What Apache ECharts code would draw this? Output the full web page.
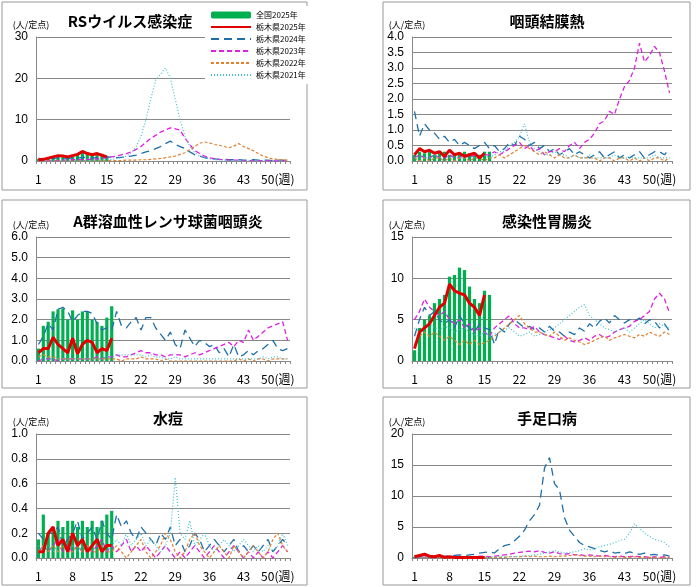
<!DOCTYPE html>
<html><head><meta charset="utf-8">
<script src="https://cdn.jsdelivr.net/npm/echarts@6/dist/echarts.min.js"></script>
<style>body{margin:0;background:#fff}#c{width:699px;height:587px}</style>
</head><body><div id="c"></div>
<script>
var weeks = [];
for (var w = 1; w <= 52; w++) weeks.push(String(w));
var seriesNames = ['全国2025年','栃木県2025年','栃木県2024年','栃木県2023年','栃木県2022年','栃木県2021年'];

// RSウイルス感染症
var rsAll = [0.5,0.6,0.8,1.0,1.2,1.1,1.3,1.5,1.8,2.2,2.0,1.8,1.5,1.3,1.1];
var rsPref = [0.3,0.4,0.7,1.0,1.3,1.2,1.0,1.3,1.6,2.3,1.8,1.5,1.8,1.4,1.0];
var rs2024 = [0.6,0.5,0.7,0.6,0.8,0.7,0.6,0.8,0.7,0.9,0.8,0.7,0.8,0.9,1.0,0.9,0.8,0.9,1.0,1.2,1.4,1.8,2.2,2.5,3.0,3.5,4.2,4.8,4.0,3.5,3.0,2.2,1.5,1.2,0.8,0.6,0.5,0.4,0.4,0.3,0.3,0.3,0.2,0.2,0.3,0.2,0.2,0.2,0.1,0.2,0.2,0.1];
var rs2023 = [0.1,0.1,0.1,0.2,0.1,0.2,0.2,0.3,0.3,0.3,0.4,0.4,0.5,0.6,0.8,1.0,1.2,1.5,1.8,2.2,2.8,3.5,4.5,5.5,6.2,7.0,7.5,8.0,7.8,7.5,5.5,4.0,2.5,1.8,1.2,0.8,0.6,0.4,0.3,0.2,0.2,0.2,0.1,0.1,0.1,0.1,0.1,0.1,0.1,0.0,0.1,0.1];
var rs2022 = [0.0,0.0,0.0,0.0,0.0,0.0,0.0,0.0,0.0,0.1,0.0,0.0,0.1,0.0,0.1,0.1,0.1,0.1,0.2,0.2,0.2,0.3,0.3,0.4,0.5,0.6,0.8,1.0,1.2,1.6,2.0,2.8,3.5,4.3,4.6,4.4,4.0,3.8,3.5,3.2,3.6,4.2,3.5,3.0,2.5,1.8,1.2,0.8,0.5,0.4,0.3,0.2];
var rs2021 = [0.0,0.0,0.0,0.0,0.0,0.0,0.0,0.0,0.1,0.1,0.1,0.1,0.2,0.2,0.3,0.4,0.6,0.8,1.2,2.0,3.5,6.0,10.0,15.0,19.5,21.0,22.5,20.0,15.0,10.0,6.0,3.5,2.0,1.2,0.8,0.5,0.3,0.2,0.2,0.1,0.1,0.1,0.1,0.1,0.1,0.0,0.0,0.0,0.0,0.0,0.0,0.0];

// 咽頭結膜熱
var pcAll = [0.2,0.3,0.25,0.3,0.2,0.25,0.3,0.2,0.25,0.2,0.3,0.25,0.2,0.2,0.3,0.3];
var pcPref = [0.2,0.4,0.3,0.35,0.25,0.3,0.15,0.35,0.2,0.25,0.15,0.2,0.25,0.1,0.25];
var pc2024 = [1.6,0.8,1.2,1.0,0.9,0.7,0.8,0.6,0.7,0.5,0.6,0.5,0.4,0.5,0.6,0.4,0.5,0.3,0.4,0.6,0.5,0.8,0.7,0.5,0.6,0.4,0.5,0.3,0.4,0.2,0.3,0.4,0.2,0.3,0.2,0.1,0.2,0.3,0.1,0.2,0.3,0.1,0.2,0.1,0.2,0.3,0.1,0.2,0.3,0.3,0.2,0.4];
var pc2023 = [0.1,0.2,0.1,0.1,0.2,0.1,0.1,0.2,0.1,0.1,0.2,0.1,0.2,0.1,0.2,0.2,0.3,0.2,0.3,0.4,0.5,0.6,0.4,0.5,0.3,0.4,0.2,0.3,0.3,0.4,0.3,0.5,0.6,0.4,0.6,0.7,0.9,1.2,1.3,1.6,1.5,2.0,2.4,2.6,3.0,3.8,3.2,3.4,3.7,3.5,2.9,2.2];
var pc2022 = [0.1,0.0,0.1,0.0,0.1,0.1,0.0,0.1,0.0,0.1,0.1,0.0,0.1,0.1,0.0,0.1,0.1,0.2,0.1,0.2,0.3,0.4,0.5,0.4,0.3,0.2,0.3,0.2,0.1,0.2,0.1,0.1,0.2,0.1,0.1,0.1,0.1,0.0,0.1,0.1,0.0,0.1,0.1,0.0,0.1,0.0,0.1,0.0,0.1,0.1,0.0,0.1];
var pc2021 = [0.1,0.1,0.1,0.1,0.2,0.1,0.2,0.1,0.2,0.1,0.1,0.2,0.1,0.1,0.2,0.1,0.2,0.3,0.3,0.5,0.6,0.8,1.2,0.6,0.4,0.3,0.2,0.2,0.3,0.2,0.2,0.1,0.2,0.1,0.1,0.2,0.1,0.1,0.1,0.1,0.2,0.1,0.1,0.1,0.1,0.1,0.1,0.1,0.2,0.1,0.1,0.1];

// A群溶血性レンサ球菌咽頭炎
var gaAll = [0.6,1.7,1.9,2.4,2.5,2.55,2.0,2.45,2.0,2.4,2.4,2.0,1.9,1.7,2.1,2.65];
var gaPref = [0.4,0.6,0.6,1.15,0.8,0.6,0.4,1.1,0.35,0.8,1.0,0.9,0.4,0.6,0.5,1.1];
var ga2024 = [0.8,1.2,1.8,1.5,2.5,2.6,2.4,1.9,2.2,2.4,2.4,2.3,1.8,1.5,1.6,1.5,2.4,1.7,1.6,1.9,2.1,1.5,2.1,2.1,1.6,1.3,1.0,1.4,0.8,0.6,1.5,1.1,0.7,1.0,0.9,0.7,0.8,0.4,0.6,0.2,0.8,0.2,0.3,0.5,0.3,0.5,0.6,0.8,1.0,0.6,0.5,0.6];
var ga2023 = [0.0,0.1,0.1,0.1,0.0,0.1,0.1,0.1,0.1,0.1,0.1,0.1,0.2,0.1,0.2,0.2,0.3,0.2,0.2,0.3,0.4,0.5,0.4,0.4,0.3,0.3,0.2,0.3,0.3,0.3,0.2,0.3,0.4,0.3,0.4,0.5,0.6,0.7,0.8,0.9,0.7,1.0,0.9,1.5,1.0,1.2,1.4,1.6,1.7,1.8,1.9,1.0];
var ga2022 = [0.2,0.3,0.2,0.2,0.1,0.1,0.1,0.1,0.1,0.1,0.1,0.1,0.1,0.1,0.1,0.1,0.1,0.0,0.1,0.1,0.1,0.2,0.1,0.1,0.1,0.0,0.1,0.0,0.0,0.0,0.0,0.0,0.0,0.0,0.0,0.0,0.0,0.0,0.0,0.0,0.0,0.1,0.0,0.1,0.0,0.1,0.1,0.0,0.1,0.1,0.1,0.1];
var ga2021 = [0.1,0.1,0.1,0.1,0.1,0.1,0.1,0.1,0.1,0.1,0.1,0.1,0.1,0.1,0.2,0.2,0.3,0.3,0.3,0.3,0.3,0.3,0.2,0.3,0.2,0.2,0.1,0.1,0.2,0.1,0.1,0.1,0.1,0.1,0.1,0.1,0.1,0.1,0.1,0.1,0.1,0.1,0.1,0.1,0.1,0.1,0.2,0.1,0.2,0.2,0.1,0.1];

// 感染性胃腸炎
var geAll = [1.3,4.0,5.0,5.5,7.0,7.5,8.0,10.2,10.4,11.3,11.0,9.0,7.5,7.0,8.5,8.0];
var gePref = [1.5,3.5,4.0,4.5,5.5,6.5,7.0,9.3,8.5,8.2,8.0,7.0,6.5,5.5,8.0];
var ge2024 = [3.0,5.0,6.5,5.5,6.0,5.0,4.5,5.0,4.0,5.5,4.5,4.0,3.5,4.5,4.0,3.8,2.0,4.0,3.5,4.5,5.0,4.5,4.0,4.2,3.8,4.0,3.5,4.2,3.6,3.5,3.0,3.5,3.2,4.0,3.6,4.5,4.0,4.8,5.2,4.6,5.5,5.0,4.6,5.0,4.8,5.2,4.5,5.0,4.8,4.0,4.5,3.6];
var ge2023 = [5.0,6.0,7.5,6.5,6.0,5.5,6.0,5.0,4.5,5.0,4.0,4.5,3.5,4.0,3.5,3.0,4.0,4.5,5.0,5.5,4.5,4.0,4.0,3.8,4.2,3.5,3.2,3.0,2.8,2.6,3.0,2.5,2.3,2.5,2.8,2.5,3.0,3.2,2.8,3.0,3.5,3.8,4.0,4.2,4.8,5.0,5.5,6.0,7.5,8.2,7.5,5.8];
var ge2022 = [2.0,3.0,3.5,3.0,3.5,3.0,2.5,3.0,2.5,2.0,2.5,2.0,2.5,2.0,2.2,2.5,3.0,3.5,4.0,4.5,5.0,5.5,4.5,4.0,3.5,3.5,3.2,3.0,3.5,3.0,2.5,2.8,2.5,2.3,2.0,2.2,2.5,2.8,3.0,2.5,2.8,3.0,3.2,3.0,2.8,3.2,3.0,3.5,3.2,3.0,3.5,3.2];
var ge2021 = [4.0,3.5,4.0,4.5,4.0,3.8,4.2,4.0,3.5,3.8,4.0,3.5,3.2,3.0,3.5,3.0,3.2,3.5,3.8,4.0,3.5,3.0,3.2,3.5,3.0,3.2,3.5,3.8,4.0,4.5,5.0,5.5,6.0,6.5,6.8,5.5,5.0,4.5,4.0,3.8,3.5,3.8,4.0,3.5,4.0,4.5,5.0,4.5,4.0,4.5,4.2,4.0];

// 水痘
var vaAll = [0.15,0.35,0.2,0.25,0.3,0.25,0.3,0.3,0.25,0.3,0.25,0.3,0.25,0.3,0.35,0.38];
var vaPref = [0.05,0.05,0.2,0.25,0.1,0.15,0.05,0.2,0.1,0.15,0.05,0.1,0.15,0.05,0.1,0.1];
var va2024 = [0.2,0.15,0.2,0.2,0.25,0.1,0.15,0.2,0.3,0.15,0.2,0.25,0.15,0.3,0.2,0.15,0.35,0.25,0.3,0.2,0.15,0.25,0.2,0.15,0.1,0.2,0.15,0.25,0.1,0.15,0.05,0.1,0.2,0.15,0.05,0.1,0.15,0.1,0.05,0.1,0.15,0.05,0.1,0.05,0.1,0.05,0.1,0.15,0.05,0.1,0.15,0.1];
var va2023 = [0.05,0.1,0.05,0.1,0.15,0.05,0.1,0.05,0.1,0.05,0.1,0.05,0.1,0.15,0.05,0.1,0.05,0.1,0.15,0.05,0.1,0.05,0.1,0.05,0.0,0.05,0.1,0.05,0.0,0.05,0.0,0.05,0.1,0.05,0.0,0.05,0.1,0.05,0.0,0.05,0.1,0.05,0.0,0.05,0.0,0.05,0.0,0.05,0.0,0.05,0.1,0.05];
var va2022 = [0.05,0.1,0.05,0.1,0.05,0.1,0.05,0.05,0.1,0.05,0.1,0.05,0.05,0.1,0.05,0.05,0.1,0.05,0.0,0.05,0.1,0.15,0.05,0.0,0.05,0.1,0.2,0.15,0.05,0.0,0.05,0.15,0.2,0.1,0.05,0.0,0.05,0.1,0.05,0.0,0.1,0.05,0.0,0.05,0.1,0.05,0.0,0.05,0.15,0.2,0.1,0.05];
var va2021 = [0.1,0.05,0.1,0.05,0.1,0.15,0.05,0.1,0.05,0.1,0.05,0.1,0.15,0.1,0.05,0.1,0.15,0.1,0.2,0.1,0.15,0.2,0.1,0.15,0.1,0.05,0.1,0.2,0.65,0.2,0.15,0.3,0.1,0.15,0.2,0.1,0.05,0.1,0.15,0.1,0.05,0.1,0.15,0.1,0.05,0.1,0.05,0.1,0.05,0.1,0.2,0.1];

// 手足口病
var hfAll = [0.2,0.3,0.2,0.2,0.3,0.2,0.2,0.2,0.2,0.2,0.2,0.2,0.2,0.2,0.2,0.2];
var hfPref = [0.2,0.4,0.6,0.3,0.2,0.4,0.1,0.2,0.1,0.1,0.1,0.1,0.1,0.1,0.1];
var hf2024 = [0.3,0.2,0.2,0.3,0.2,0.2,0.3,0.3,0.4,0.5,0.4,0.5,0.6,0.8,0.9,1.0,0.8,1.5,2.0,2.2,2.8,3.5,4.5,6.0,7.0,8.5,14.5,16.2,12.0,11.0,6.5,4.5,3.5,2.5,2.0,1.8,1.5,1.2,1.0,1.2,0.8,0.9,0.7,1.0,0.8,0.6,0.8,0.5,0.6,0.4,0.5,0.3];
var hf2023 = [0.2,0.1,0.1,0.2,0.1,0.1,0.2,0.2,0.1,0.1,0.2,0.2,0.2,0.3,0.3,0.2,0.3,0.4,0.5,0.6,0.8,0.9,1.0,1.1,1.0,1.2,0.9,0.8,1.0,0.7,0.6,0.7,0.5,0.6,0.4,0.5,0.4,0.3,0.4,0.3,0.2,0.3,0.2,0.2,0.3,0.2,0.2,0.1,0.2,0.1,0.2,0.1];
var hf2022 = [0.1,0.1,0.0,0.1,0.1,0.0,0.1,0.0,0.1,0.0,0.1,0.0,0.1,0.0,0.1,0.1,0.1,0.1,0.1,0.2,0.2,0.2,0.3,0.2,0.3,0.2,0.2,0.3,0.2,0.3,0.3,0.4,0.5,0.4,0.3,0.3,0.2,0.3,0.2,0.2,0.1,0.2,0.1,0.1,0.2,0.1,0.1,0.1,0.1,0.0,0.1,0.1];
var hf2021 = [0.1,0.1,0.1,0.1,0.1,0.1,0.1,0.1,0.1,0.1,0.1,0.1,0.1,0.1,0.1,0.1,0.2,0.2,0.2,0.3,0.2,0.3,0.3,0.4,0.5,0.6,0.8,1.0,1.2,1.0,0.8,0.9,1.0,1.2,1.5,1.3,1.5,1.8,2.0,2.2,2.5,2.8,3.0,4.0,5.5,4.8,4.0,3.5,3.0,2.8,2.5,1.8];

var panels = [
  {title:'RSウイルス感染症', tx:125, max:30, interval:10, fmt:0, d:[rsAll,rsPref,rs2024,rs2023,rs2022,rs2021], box:[2,2,305,188], plot:[36,37,290,161]},
  {title:'咽頭結膜熱', max:4, interval:0.5, fmt:1, d:[pcAll,pcPref,pc2024,pc2023,pc2022,pc2021], box:[383,2,307,188], plot:[412,37,672,161]},
  {title:'A群溶血性レンサ球菌咽頭炎', max:6, interval:1, fmt:1, d:[gaAll,gaPref,ga2024,ga2023,ga2022,ga2021], box:[2,200,305,188], plot:[36,237,290,361]},
  {title:'感染性胃腸炎', max:15, interval:5, fmt:0, d:[geAll,gePref,ge2024,ge2023,ge2022,ge2021], box:[383,200,307,188], plot:[412,237,672,361]},
  {title:'水痘', max:1, interval:0.2, fmt:1, d:[vaAll,vaPref,va2024,va2023,va2022,va2021], box:[2,397,305,188], plot:[36,434,290,558]},
  {title:'手足口病', max:20, interval:5, fmt:0, d:[hfAll,hfPref,hf2024,hf2023,hf2022,hf2021], box:[383,397,307,188], plot:[412,434,672,558]}
];

var lineStyles = [
  null,
  {color:'#e00000', width:3, type:'solid'},
  {color:'#1f6fa8', width:1.3, type:[8,5]},
  {color:'#e020e0', width:1.3, type:[5,3]},
  {color:'#e08030', width:1.2, type:[3,2]},
  {color:'#40c0d0', width:1.2, type:[1,2]}
];

var grid = [], xAxis = [], yAxis = [], series = [], title = [], graphic = [];
panels.forEach(function (p, i) {
  grid.push({left:p.plot[0], top:p.plot[1], width:p.plot[2]-p.plot[0], height:p.plot[3]-p.plot[1]});
  graphic.push({type:'rect', shape:{x:p.box[0], y:p.box[1], width:p.box[2], height:p.box[3]}, style:{fill:'none', stroke:'#999', lineWidth:1}, silent:true, z:-1});
  title.push({text:p.title, left:p.tx || (p.plot[0]+p.plot[2])/2, top:p.plot[1]-28, textAlign:'center',
    textStyle:{fontSize:15, fontWeight:'bold', color:'#000', fontFamily:'Noto Sans CJK JP'}});
  xAxis.push({type:'category', gridIndex:i, data:weeks, boundaryGap:true,
    axisLine:{lineStyle:{color:'#888'}}, axisTick:{show:true, interval:0, length:3, lineStyle:{color:'#888'}},
    axisLabel:{interval:6, color:'#000', fontSize:12, margin:12, fontFamily:'Noto Sans CJK JP',
      formatter:function (v) { return v === '50' ? '50(週)' : v; }}});
  yAxis.push({type:'value', gridIndex:i, min:0, max:p.max, interval:p.interval,
    name:'(人/定点)', nameLocation:'end', nameGap:8, nameTextStyle:{fontSize:9, color:'#000', align:'center', fontFamily:'Noto Sans CJK JP', padding:[0,0,0,-10]},
    axisLine:{show:true, lineStyle:{color:'#888'}}, axisTick:{show:false},
    splitLine:{lineStyle:{color:'#888'}},
    axisLabel:{color:'#000', fontSize:12, formatter:function (v) { return v.toFixed(p.fmt); }}});
  series.push({name:seriesNames[0], type:'bar', xAxisIndex:i, yAxisIndex:i, data:p.d[0],
    barWidth:'65%', itemStyle:{color:'#00b050'}, z:1});
  for (var k = 2; k <= 5; k++) {
    series.push({name:seriesNames[k], type:'line', xAxisIndex:i, yAxisIndex:i, data:p.d[k],
      symbol:'none', lineStyle:lineStyles[k], itemStyle:{color:lineStyles[k].color, opacity:0}, z:2});
  }
  series.push({name:seriesNames[1], type:'line', xAxisIndex:i, yAxisIndex:i, data:p.d[1],
    symbol:'none', lineStyle:lineStyles[1], itemStyle:{color:'#e00000', opacity:0}, z:5});
});

var chart = echarts.init(document.getElementById('c'));
chart.setOption({
  animation:false,
  title:title,
  graphic:graphic,
  legend:{data:seriesNames, orient:'vertical', left:205, top:6, itemGap:4, itemWidth:40, itemHeight:7,
    backgroundColor:'#fff', textStyle:{fontSize:8, color:'#000', fontFamily:'Noto Sans CJK JP'}},
  grid:grid, xAxis:xAxis, yAxis:yAxis, series:series
});
</script></body></html>
